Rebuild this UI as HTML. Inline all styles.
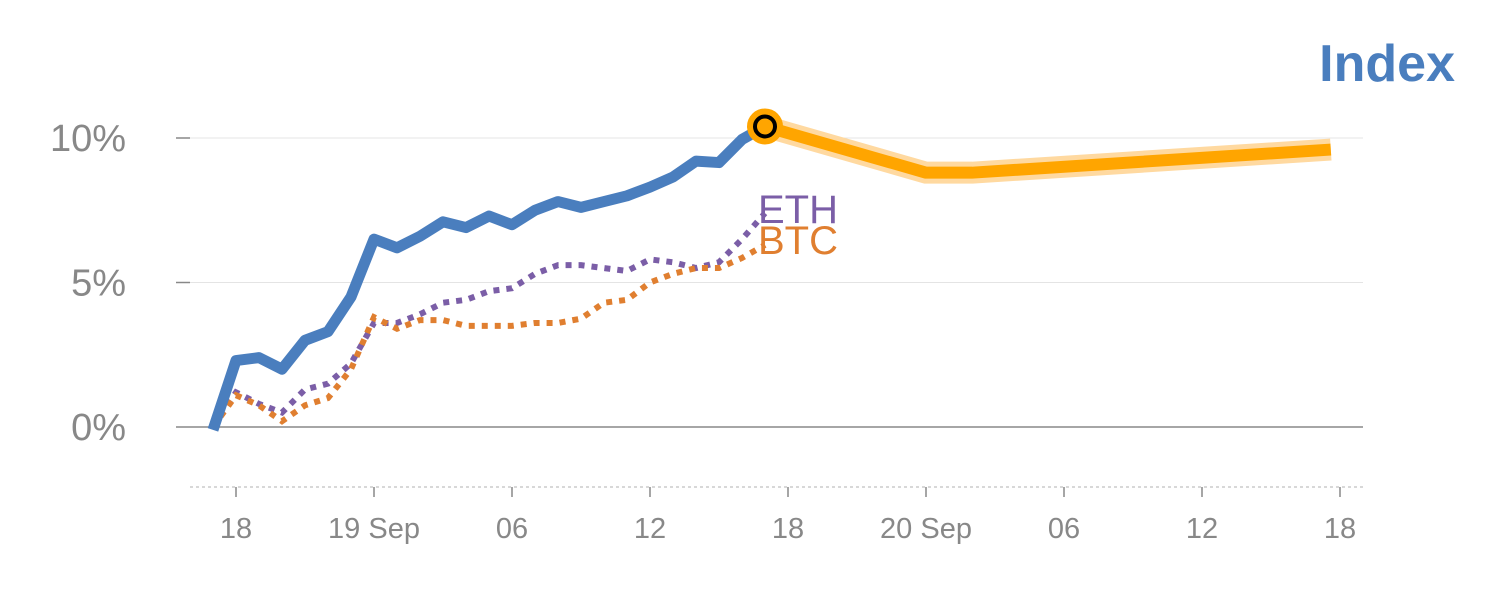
<!DOCTYPE html>
<html><head><meta charset="utf-8"><style>
body{margin:0;background:#fff;width:1500px;height:600px;overflow:hidden}
svg{font-family:"Liberation Sans",sans-serif}
</style></head><body>
<svg id="chart" width="1500" height="600">
<text x="1455" y="81" text-anchor="end" font-size="52" font-weight="bold" fill="#4a7ebe">Index</text>
<g id="axes"></g><g id="series"></g>
</svg>
<script>
const hours=[-1,0,1,2,3,4,5,6,7,8,9,10,11,12,13,14,15,16,17,18,19,20,21,22,23];
const indexVals=[-0.1,2.3,2.4,2.0,3.0,3.3,4.5,6.5,6.2,6.6,7.1,6.9,7.3,7.0,7.5,7.8,7.6,7.8,8.0,8.3,8.65,9.2,9.15,9.95,10.4];
const ethVals=[0,1.2,0.8,0.5,1.3,1.5,2.2,3.6,3.6,3.9,4.3,4.4,4.7,4.8,5.3,5.6,5.6,5.5,5.4,5.8,5.7,5.5,5.7,6.5,7.4];
const btcVals=[0,1.1,0.75,0.2,0.75,1.0,2.0,3.8,3.4,3.7,3.7,3.5,3.5,3.5,3.6,3.6,3.75,4.3,4.4,5.0,5.3,5.5,5.5,5.85,6.3];
const forecastHours=[23,30,32,47.6];
const forecastVals=[10.4,8.8,8.8,9.6];
const xTickHours=[0,6,12,18,24,30,36,42,48];
const xTickLabels=["18","19 Sep","06","12","18","20 Sep","06","12","18"];
const yTicks=[0,5,10];
const yTickLabels=["0%","5%","10%"];
const X=h=>236+h*23, Y=v=>427-v*28.9;
const NS="http://www.w3.org/2000/svg";
const axes=document.getElementById('axes'), ser=document.getElementById('series');
function mk(p,tag,attrs){const e=document.createElementNS(NS,tag);for(const k in attrs)e.setAttribute(k,attrs[k]);p.appendChild(e);return e;}
yTicks.forEach((v,i)=>{
 const g=mk(axes,'line',{x1:190,x2:1363,y1:Y(v),y2:Y(v),stroke:v===0?'#888':'#e4e4e4','stroke-width':v===0?1.5:1});
 
 
 const tk=mk(axes,'line',{x1:176,x2:190,y1:Y(v),y2:Y(v),stroke:'#888','stroke-width':1.5});
 
 
 const t=mk(axes,'text',{x:126,y:Y(v)+13,'text-anchor':'end','font-size':38,fill:'#888'});
 t.textContent=yTickLabels[i];
 
 
});
const base=mk(axes,'line',{x1:190,x2:1363,y1:487,y2:487,stroke:'#ccc','stroke-width':1.5,'stroke-dasharray':'3,3'});


xTickHours.forEach((h,i)=>{
 const tk=mk(axes,'line',{x1:X(h),x2:X(h),y1:487,y2:497,stroke:'#888','stroke-width':1.5});
 
 
 const t=mk(axes,'text',{x:X(h),y:538,'text-anchor':'middle','font-size':29,fill:'#888'});
 t.textContent=xTickLabels[i];
 
 
});
const pts=(hs,vs)=>hs.map((h,i)=>X(h)+','+Y(vs[i])).join(' ');
const fh=mk(ser,'polyline',{points:pts(forecastHours,forecastVals),fill:'none',stroke:'#ffd9a0','stroke-width':22,'stroke-linejoin':'round'});


const fl=mk(ser,'polyline',{points:pts(forecastHours,forecastVals),fill:'none',stroke:'#ffa500','stroke-width':12,'stroke-linejoin':'round'});


const eth=mk(ser,'polyline',{points:pts(hours,ethVals),fill:'none',stroke:'#7b5ea7','stroke-width':6,'stroke-dasharray':'6,7'});


const btc=mk(ser,'polyline',{points:pts(hours,btcVals),fill:'none',stroke:'#e07f30','stroke-width':6,'stroke-dasharray':'6,7'});


const idx=mk(ser,'polyline',{points:pts(hours,indexVals),fill:'none',stroke:'#4a7ebe','stroke-width':11,'stroke-linejoin':'round'});


const last=hours.length-1;
const dot1=mk(ser,'circle',{cx:X(hours[last]),cy:Y(indexVals[last]),r:18,fill:'#ffa500'});


const dot=mk(ser,'circle',{cx:X(hours[last]),cy:Y(indexVals[last]),r:10,fill:'#ffa500',stroke:'#000','stroke-width':4});


const le=mk(ser,'text',{x:X(hours[last])-7,y:Y(ethVals[last])+10,'font-size':40,fill:'#7b5ea7'});
le.textContent='ETH';


const lb=mk(ser,'text',{x:X(hours[last])-7,y:Y(btcVals[last])+9,'font-size':40,fill:'#e07f30'});
lb.textContent='BTC';


</script>
</body></html>
